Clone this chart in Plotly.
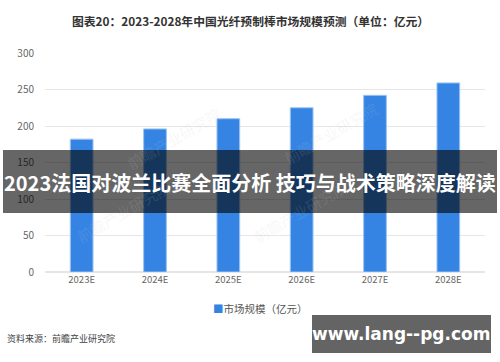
import plotly.graph_objects as go

categories = ["2023E", "2024E", "2025E", "2026E", "2027E", "2028E"]
market_size = [182, 196, 210, 225, 242, 259]
y_ticks = [0, 50, 100, 150, 200, 250, 300]

W, H = 500, 362
L, R, T, B = 45, 15, 53, 90
PW, PH = W - L - R, H - T - B


def px(x):
    return (x - L) / PW


def py(y):
    return (H - B - y) / PH


FONT = "Noto Sans CJK SC"

fig = go.Figure()
fig.add_trace(go.Bar(
    x=categories, y=market_size, name="市场规模（亿元）",
    marker=dict(color="#3584e4", line=dict(color="#9cc4f2", width=1)),
    width=0.31, showlegend=False,
))

annotations = [
    dict(text="<b>图表20：2023-2028年中国光纤预制棒市场规模预测（单位：亿元）</b>",
         x=px(250), y=py(20), xref="paper", yref="paper", showarrow=False,
         font=dict(size=11.8, color="#333333", family=FONT), xanchor="center", yanchor="middle"),
    dict(text="资料来源：前瞻产业研究院", x=px(5), y=py(338), xref="paper", yref="paper",
         showarrow=False, font=dict(size=9, color="#444444", family=FONT),
         xanchor="left", yanchor="middle"),
    dict(text="<span style='color:#3584e4'>■</span>市场规模（亿元）", x=px(211), y=py(308),
         xref="paper", yref="paper", showarrow=False,
         font=dict(size=10.5, color="#555555", family=FONT), xanchor="left", yanchor="middle"),
]

# faint watermarks
for (wx, wy) in [(120, 100), (330, 95), (70, 250), (300, 250)]:
    annotations.append(dict(text="前瞻产业研究院", x=px(wx), y=py(wy), xref="paper", yref="paper",
                            showarrow=False, textangle=-30,
                            font=dict(size=15, color="rgba(200,200,200,0.15)", family=FONT)))

# banner
annotations.append(dict(text="<b>2023法国对波兰比赛全面分析 技巧与战术策略深度解读</b>",
                        x=px(250), y=py(182), xref="paper", yref="paper", showarrow=False,
                        font=dict(size=20, color="white", family=FONT),
                        xanchor="center", yanchor="middle"))
annotations.append(dict(text="<b>www.lang--pg.com</b>", x=px(401), y=py(334), xref="paper", yref="paper",
                        showarrow=False, font=dict(size=17, color="white", family="DejaVu Sans"),
                        xanchor="center", yanchor="middle"))

shapes = [
    dict(type="rect", xref="paper", yref="paper", x0=px(3), x1=px(497), y0=py(150), y1=py(213),
         fillcolor="rgba(0,0,0,0.6)", line=dict(width=0), layer="above"),
    dict(type="rect", xref="paper", yref="paper", x0=px(312), x1=px(491), y0=py(315), y1=py(353),
         fillcolor="#646464", line=dict(width=0), layer="above"),
]

fig.update_layout(
    width=W, height=H, margin=dict(l=L, r=R, t=T, b=B, autoexpand=False),
    paper_bgcolor="white", plot_bgcolor="white",
    font=dict(family=FONT, color="#666666", size=10),
    showlegend=False,
    xaxis=dict(showgrid=False, showline=False, ticks="", tickfont=dict(size=9.5, color="#666666")),
    yaxis=dict(range=[0, 300], tickvals=y_ticks, showgrid=True, gridcolor="#e6e6e6", gridwidth=1,
               zeroline=True, zerolinecolor="#e6e6e6", zerolinewidth=2,
               tickfont=dict(size=10, color="#666666"), ticklabelstandoff=10),
    annotations=annotations, shapes=shapes,
)

fig.write_html("out.html", config={"displayModeBar": False},
               post_script="document.body.style.margin='0';document.body.style.overflow='hidden';")
